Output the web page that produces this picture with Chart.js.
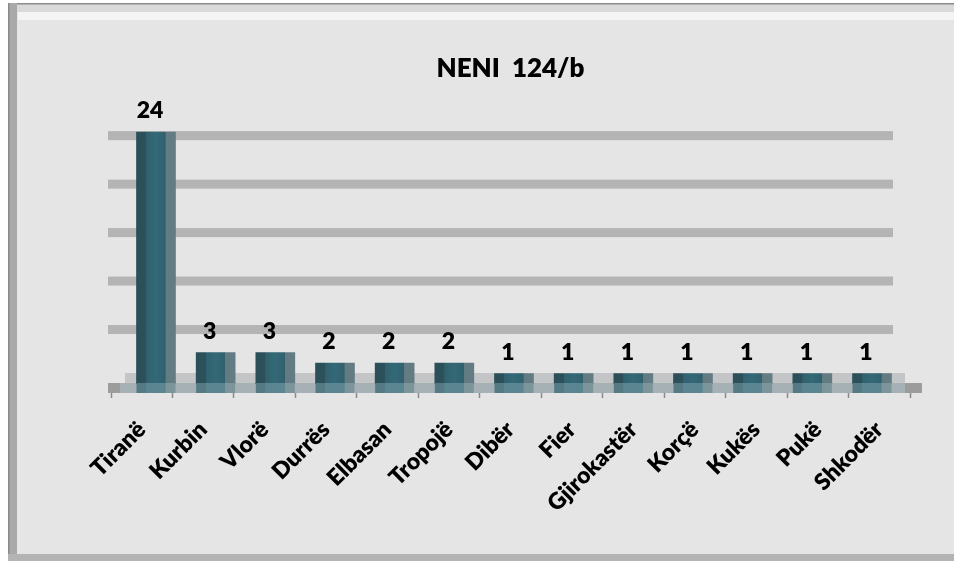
<!DOCTYPE html>
<html>
<head>
<meta charset="utf-8">
<script src="https://cdn.jsdelivr.net/npm/chart.js@4.4.1/dist/chart.umd.min.js"></script>
<style>
  html, body { margin: 0; padding: 0; background: #ffffff; }
  #wrap { position: relative; width: 954px; height: 561px; }
</style>
</head>
<body>
<div id="wrap"><canvas id="chart" width="954" height="561"></canvas></div>
<script>
// Cases per district
const categories = ['Tiranë', 'Kurbin', 'Vlorë', 'Durrës', 'Elbasan', 'Tropojë', 'Dibër', 'Fier', 'Gjirokastër', 'Korçë', 'Kukës', 'Pukë', 'Shkodër'];
const counts = [24, 3, 3, 2, 2, 2, 1, 1, 1, 1, 1, 1, 1];
// Back-wall gridline values
const gridValues = [5, 10, 15, 20, 25];
const chartTitle = 'NENI  124/b';

const FONT = 'Lato, "Open Sans", sans-serif';
const WEIGHT = '800';

// Panel background and frame
const framePlugin = {
  id: 'frame',
  beforeDraw(chart) {
    const ctx = chart.ctx;
    const W = chart.width, H = chart.height;
    ctx.save();
    ctx.fillStyle = '#ffffff';
    ctx.fillRect(0, 0, W, H);
    ctx.fillStyle = '#e5e5e5';
    ctx.fillRect(8, 3, W - 8, H - 3);
    ctx.fillStyle = '#d9d9d9';
    ctx.fillRect(17, 4, W - 17, 8);
    ctx.fillStyle = '#f4f4f4';
    ctx.fillRect(18, 12, W - 18, 8);
    ctx.fillStyle = '#8c8c8c';
    ctx.fillRect(8, 3, W - 8, 1.5);
    ctx.fillStyle = '#a9a9a9';
    ctx.fillRect(9, 3, 8, H - 3);
    ctx.fillStyle = '#8a8a8a';
    ctx.fillRect(8, 3, 1.5, H - 3);
    ctx.fillStyle = '#b4b4b4';
    ctx.fillRect(8, H - 7, W - 8, 7);
    ctx.restore();
  }
};

// Back-wall gridlines and the floor slab under the bars
const wallPlugin = {
  id: 'wall',
  beforeDatasetsDraw(chart) {
    const ctx = chart.ctx;
    const area = chart.chartArea;
    const yw = chart.scales.y2;
    const xb = chart.scales.xb;
    const y0 = chart.scales.y.getPixelForValue(0);
    const gl = area.left - 3;
    const gr = xb.getPixelForValue(categories.length - 1) + 21;
    ctx.save();
    ctx.fillStyle = '#b4b4b4';
    gridValues.forEach(v => {
      const y = yw.getPixelForValue(v);
      ctx.fillRect(gl, y - 4.5, gr - gl, 9);
    });
    // floor: back strip and front edge
    ctx.fillStyle = '#c3c5c6';
    ctx.fillRect(area.left + 14, y0 - 11, gr + 12 - area.left - 14, 11);
    ctx.fillStyle = '#a6b1b5';
    ctx.fillRect(area.left - 3, y0 - 1, area.right + 12 - area.left + 3, 10);
    ctx.fillStyle = '#9c9c9c';
    ctx.fillRect(area.left - 3, y0 - 1, 12, 10);
    ctx.fillRect(area.right - 5, y0 - 1, 17, 10);
    ctx.restore();
  }
};

// Bar foot on the floor edge and value labels
const labelPlugin = {
  id: 'valueLabels',
  afterDatasetsDraw(chart) {
    const ctx = chart.ctx;
    const meta = chart.getDatasetMeta(0);
    const y0 = chart.scales.y.getPixelForValue(0);
    ctx.save();
    meta.data.forEach((bar, i) => {
      const half = bar.width / 2;
      const g = ctx.createLinearGradient(bar.x - half, 0, bar.x + half, 0);
      g.addColorStop(0, '#557a84');
      g.addColorStop(0.24, '#557a84');
      g.addColorStop(0.25, '#5a8591');
      g.addColorStop(0.74, '#5a8591');
      g.addColorStop(0.75, '#7b959b');
      g.addColorStop(1, '#7b959b');
      ctx.fillStyle = g;
      ctx.fillRect(bar.x - half, y0 - 1, bar.width, 10);

      ctx.fillStyle = '#000000';
      ctx.font = WEIGHT + ' 23px ' + FONT;
      ctx.textAlign = 'center';
      ctx.textBaseline = 'alphabetic';
      ctx.fillText(String(counts[i]), bar.x - 6, bar.y - 14);
    });
    ctx.restore();
  }
};

function barFill(context) {
  const chart = context.chart;
  const xb = chart.scales.xb;
  if (!chart.chartArea || !xb) return '#336675';
  const cx = xb.getPixelForValue(context.dataIndex);
  const half = 19.5;
  const g = chart.ctx.createLinearGradient(cx - half, 0, cx + half, 0);
  g.addColorStop(0, '#2b4f59');
  g.addColorStop(0.24, '#2c515b');
  g.addColorStop(0.25, '#31606d');
  g.addColorStop(0.5, '#346977');
  g.addColorStop(0.74, '#31606d');
  g.addColorStop(0.75, '#627a81');
  g.addColorStop(1, '#647c83');
  return g;
}

new Chart(document.getElementById('chart'), {
  type: 'bar',
  data: {
    labels: categories,
    datasets: [{
      label: chartTitle,
      data: counts.map((v, i) => ({ x: i, y: v })),
      xAxisID: 'xb',
      yAxisID: 'y',
      backgroundColor: barFill,
      borderWidth: 0,
      barThickness: 39
    }]
  },
  options: {
    responsive: false,
    animation: false,
    devicePixelRatio: 1,
    layout: { padding: { top: 53, left: 111, right: 44, bottom: 27 } },
    plugins: {
      legend: { display: false },
      tooltip: { enabled: false },
      title: {
        display: true,
        text: chartTitle,
        color: '#000000',
        font: { family: FONT, size: 26, weight: WEIGHT },
        padding: { top: 0, bottom: 6 }
      }
    },
    scales: {
      x: {
        type: 'category',
        labels: categories,
        offset: true,
        grid: {
          display: true,
          offset: true,
          drawOnChartArea: false,
          drawTicks: true,
          tickLength: 14,
          tickColor: '#8a8a8a',
          tickWidth: 1.5
        },
        border: { display: false },
        ticks: {
          autoSkip: false,
          maxRotation: 45,
          minRotation: 45,
          padding: 18,
          labelOffset: 0,
          color: '#000000',
          font: { family: FONT, size: 23, weight: WEIGHT }
        },
        afterFit(scale) { scale.height = 150; }
      },
      xb: {
        type: 'linear',
        display: false,
        offset: false,
        min: -0.754,
        max: 12.637
      },
      y: {
        type: 'linear',
        display: false,
        min: 0,
        max: 28
      },
      y2: {
        type: 'linear',
        display: false,
        position: 'left',
        min: -0.62,
        max: 29.69
      }
    }
  },
  plugins: [framePlugin, wallPlugin, labelPlugin]
});
</script>
</body>
</html>
